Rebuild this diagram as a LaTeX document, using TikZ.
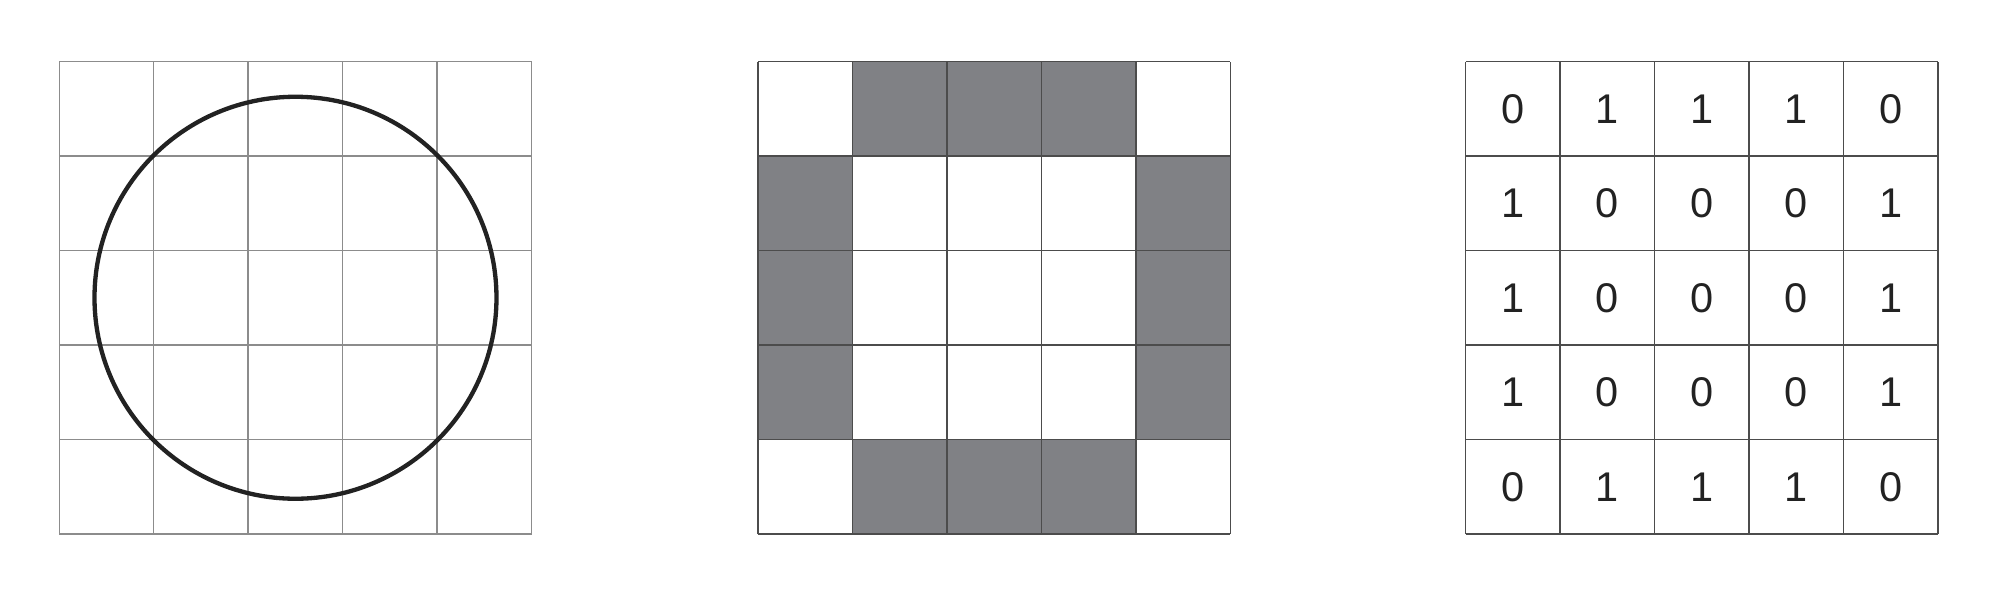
\documentclass[tikz,border=0pt]{standalone}
\usepackage{fontspec}
\setmainfont{Liberation Sans}
\definecolor{pixgray}{RGB}{128,129,133}
\definecolor{inkdark}{RGB}{34,34,34}

\begin{document}
\begin{tikzpicture}[
  x=1cm,
  y=1cm,
  every node/.style={font=\fontsize{12.5}{14}\selectfont, text=inkdark},
  fineline/.style={draw=black!45, line width=0.45pt},
  cellline/.style={draw=black!70, line width=0.45pt},
  ring/.style={draw=inkdark, line width=1.3pt},
  pixon/.style={fill=pixgray},
]
\useasboundingbox (0,0) rectangle (21.26,6.339);

% left: circle over the grid
\begin{scope}[shift={(0.627,0.688)}]
  \draw[fineline] (0,0) grid (5,5);
  \draw[ring] (2.5,2.5) circle (2.127);
\end{scope}

% middle: filled pixels
\begin{scope}[shift={(8.02,0.688)}]
  \foreach \bits [count=\r from 0] in {{0,1,1,1,0},{1,0,0,0,1},{1,0,0,0,1},{1,0,0,0,1},{0,1,1,1,0}}
    \foreach \b [count=\c from 0] in \bits {
      \ifnum\b=1 \fill[pixon] (\c,4-\r) rectangle ++(1,1); \fi
    };
  \draw[cellline] (0,0) grid (5,5);
\end{scope}

% right: the bits
\begin{scope}[shift={(15.51,0.688)}]
  \draw[cellline] (0,0) grid (5,5);
  \foreach \bits [count=\r from 0] in {{0,1,1,1,0},{1,0,0,0,1},{1,0,0,0,1},{1,0,0,0,1},{0,1,1,1,0}}
    \foreach \b [count=\c from 0] in \bits
      \node (bit\r\c) at (\c+0.5,4.5-\r) {\b};
\end{scope}
\end{tikzpicture}
\end{document}
